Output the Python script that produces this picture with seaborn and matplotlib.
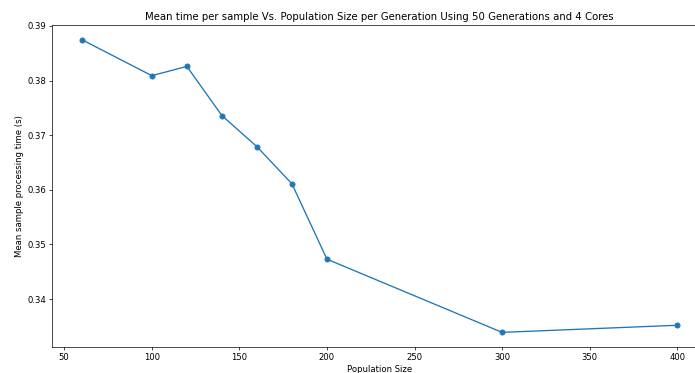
import matplotlib
matplotlib.use("Agg")
import matplotlib.pyplot as plt
import seaborn as sns

# Data
population = [60, 100, 120, 140, 160, 180, 200, 300, 400]
mean_time = [0.3875, 0.3809, 0.3826, 0.3736, 0.3679, 0.3611, 0.3473, 0.3339, 0.3352]

TITLE = "Mean time per sample Vs. Population Size per Generation Using 50 Generations and 4 Cores"
XLABEL = "Population Size"
YLABEL = "Mean sample processing time (s)"

W, H = 695, 373
fig = plt.figure(figsize=(W / 100, H / 100), dpi=100)
# axes placed in pixels; the right spine falls just outside the crop
ax = fig.add_axes([52 / W, (H - 347) / H, 655 / W, 322 / H])

sns.lineplot(x=population, y=mean_time, ax=ax, color="#1f77b4",
             linewidth=0.95, marker="o", markersize=3.7,
             markeredgecolor="#1f77b4", markeredgewidth=0.6)

ax.set_title(TITLE, fontsize=7.3, pad=3.6)
ax.set_xlabel(XLABEL, fontsize=6.1, labelpad=2.4)
ax.set_ylabel(YLABEL, fontsize=6.1, labelpad=2.4)
ax.set_yticks([0.34, 0.35, 0.36, 0.37, 0.38, 0.39])
ax.tick_params(labelsize=6.1, length=2.1, width=0.5, pad=2.1)
for s in ax.spines.values():
    s.set_linewidth(0.5)
ax.spines["right"].set_visible(False)

fig.savefig("out.png", dpi=100)
